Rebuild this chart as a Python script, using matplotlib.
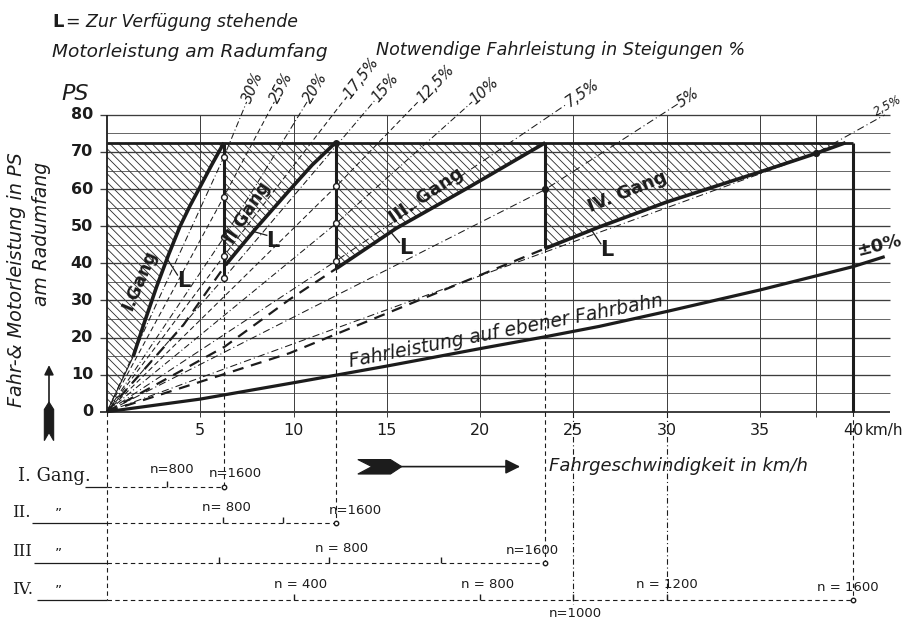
"""Fahr- und Motorleistung am Radumfang mit Steigungslinien (Nachzeichnung)."""

import math

import matplotlib

matplotlib.use("Agg")
import matplotlib.pyplot as plt
from matplotlib.patches import Polygon

plt.rcParams["font.family"] = ["DejaVu Sans"]
plt.rcParams["hatch.linewidth"] = 0.6
plt.rcParams["hatch.color"] = "#2a2a2a"

INK = "#1c1c1c"
GRID = "#3c3c3c"

# Fahrleistung auf ebener Fahrbahn (+-0 %)
FLAT_V = [0, 5, 10, 15, 20, 23.5, 26.4, 30, 35, 40, 41.7]
FLAT_P = [0, 3.4, 7.8, 12.3, 17.0, 20.2, 23.0, 27.0, 32.8, 39.1, 41.8]

# Steigungslinien: Schnitt mit der Schaltlinie und Schnitt mit 80 PS
GRADE_LABELS = ["30%", "25%", "20%", "-17,5%", "15%", "12,5%", "10%", "7,5%", "5%", "2,5%"]
GRADE_MID_V = [6.27, 6.27, 6.27, 6.27, 6.27, 12.3, 12.3, 12.3, 23.5, 38.0]
GRADE_MID_P = [68.7, 58.0, 47.0, 42.0, 36.0, 60.8, 50.8, 40.7, 59.9, 69.6]
GRADE_V80 = [7.2, 8.6, 10.3, 12.1, 13.7, 16.0, 18.8, 23.8, 29.7, 41.7]
GRADE_TOP_P = [83.5, 83.5, 83.5, 84.0, 84.0, 84.0, 83.5, 83.0, 83.0, 79.0]

# Motorleistung am Radumfang je Gang
GEAR_I_V = [1.4, 2.0, 2.66, 3.3, 3.91, 4.45, 4.99, 5.6, 6.27]
GEAR_I_P = [14.8, 24.0, 33.7, 42.3, 49.9, 55.5, 60.6, 66.4, 72.5]
GEAR_II_V = [6.35, 8.0, 9.8, 11.0, 12.25]
GEAR_II_P = [39.5, 49.5, 59.8, 66.5, 72.5]
GEAR_III_V = [12.3, 15.5, 19.3, 23.5]
GEAR_III_P = [38.6, 49.4, 60.2, 72.5]
GEAR_IV_V = [23.5, 26.4, 30.0, 35.0, 38.0, 39.6]
GEAR_IV_P = [44.0, 49.8, 56.5, 64.6, 69.6, 72.5]
P_MAX = 72.5
GEAR_END_V = [6.27, 12.3, 23.5, 40.0]

# Grenzlinien (stark gestrichelt) bis zum Anfang des naechsten Ganges
LIMIT_II_V = [0, 4.1, 6.35]
LIMIT_II_P = [0, 23.4, 39.5]
LIMIT_III_V = [0, 6.3, 9.8, 12.3]
LIMIT_III_P = [0, 17.5, 30.3, 38.6]
LIMIT_IV_V = [0, 9.8, 23.5]
LIMIT_IV_P = [0, 15.8, 44.0]

# Drehzahlleisten unter der Abszisse
ROW_TICKS = [[3.2], [6.2, 9.45], [6.0, 11.9, 17.9], [10.0, 20.0, 25.0, 30.0]]
ROW_LABELS = [
    [("n=800", 3.5, -15.6), ("n=1600", 6.9, -16.6)],
    [("n= 800", 6.4, -25.7), ("n=1600", 13.3, -26.5)],
    [("n = 800", 12.6, -36.8), ("n=1600", 22.8, -37.3)],
    [("n = 400", 10.4, -46.6), ("n = 800", 20.4, -46.6), ("n=1000", 25.1, -54.4),
     ("n = 1200", 30.0, -46.6), ("n = 1600", 39.7, -47.3)],
]
ROW_NAMES = ["I. Gang.", "II.", "III", "IV."]
ROW_P = [-20.3, -30.0, -40.7, -50.75]

X_TICKS = [5, 10, 15, 20, 25, 30, 35, 40]
Y_TICKS = [0, 10, 20, 30, 40, 50, 60, 70, 80]

fig = plt.figure(figsize=(9.1, 6.2), dpi=100)
ax = fig.add_axes([0, 0, 1, 1])
ax.set_xlim(-107 / 18.65, 803 / 18.65)
ax.set_ylim(-208.3 / 3.71, 411.7 / 3.71)
ax.axis("off")


def line(xs, ys, lw=0.7, color=GRID, ls="-", z=2, **kw):
    ax.plot(xs, ys, color=color, lw=lw, ls=ls, zorder=z, solid_capstyle="butt", **kw)


def angle(v0, p0, v1, p1):
    a = ax.transData.transform((v0, p0))
    b = ax.transData.transform((v1, p1))
    return math.degrees(math.atan2(b[1] - a[1], b[0] - a[0]))


# grid
for p in range(5, 81, 5):
    major = p % 10 == 0
    line([-0.4 if major else 0, 42.0], [p, p], lw=0.95 if major else 0.55)
line([-0.4, 42.0], [0, 0], lw=1.2, color=INK)
for v in [5, 10, 15, 20, 25, 30, 35, 38]:
    line([v, v], [-1.4, 80], lw=0.7)
line([0, 0], [0, 80], lw=1.3, color=INK)
line([0, 40], [P_MAX, P_MAX], lw=2.0, color=INK, z=5)
line([40, 40], [0, P_MAX], lw=2.2, color=INK, z=5)

# hatched areas of available power
regions = [
    [(0, 0), (0, P_MAX)] + list(zip(GEAR_I_V, GEAR_I_P))[::-1],
    [(GEAR_END_V[0], P_MAX)] + list(zip(GEAR_II_V, GEAR_II_P))[::-1] + [(GEAR_END_V[0], GEAR_II_P[0])],
    [(GEAR_END_V[1], P_MAX)] + list(zip(GEAR_III_V, GEAR_III_P))[::-1],
    [(GEAR_END_V[2], P_MAX), (GEAR_IV_V[-1], P_MAX)] + list(zip(GEAR_IV_V, GEAR_IV_P))[::-1],
]
for pts in regions:
    ax.add_patch(Polygon(pts, closed=True, facecolor="none", edgecolor="#2a2a2a",
                         lw=0, hatch="\\" * 4, zorder=1.5))

# grade lines
styles = [(0, (6, 2.5, 1, 2.5)), (0, (5, 3)), (0, (6, 2.5, 1, 2.5)), (0, (5, 3)),
          (0, (6, 2.5, 1, 2.5)), (0, (5, 3)), (0, (6, 2.5, 1, 2.5)), (0, (7, 3, 1, 3)),
          (0, (7, 3, 1, 3)), (0, (7, 3, 1, 3))]
for lab, vm, pm, v80, ptop, st in zip(GRADE_LABELS, GRADE_MID_V, GRADE_MID_P,
                                        GRADE_V80, GRADE_TOP_P, styles):
    vtop = v80 + (ptop - 80) * (v80 - vm) / (80 - pm)
    pts_v = [0, vm, v80, vtop] if ptop > 80 else [0, vm, vtop, v80]
    pts_p = [0, pm, 80, ptop] if ptop > 80 else [0, pm, ptop, 80]
    line(pts_v, pts_p, lw=0.75, color=INK, ls=st, z=3)
    rot = angle(vm, pm, v80, 80)
    ax.text(vtop, ptop, lab, rotation=rot, rotation_mode="anchor", ha="left",
            va="bottom" if ptop < 80 else "center",
            fontsize=8.5 if lab == "2,5%" else 10.5, style="italic", color=INK)
for vm, pm, lab in zip(GRADE_MID_V, GRADE_MID_P, GRADE_LABELS):
    filled = lab in ("5%", "2,5%")
    ax.plot(vm, pm, "o", ms=4.2, mfc=INK if filled else "white", mec=INK, mew=1.0, zorder=7)

# heavy dashed limit lines
for vs, ps in [(LIMIT_II_V, LIMIT_II_P), (LIMIT_III_V, LIMIT_III_P), (LIMIT_IV_V, LIMIT_IV_P)]:
    line(vs, ps, lw=1.6, color=INK, ls=(0, (5, 3.5)), z=3)

# flat road line
line(FLAT_V, FLAT_P, lw=2.3, color=INK, z=6)

# gear curves and shift verticals
for vs, ps in [(GEAR_I_V, GEAR_I_P), (GEAR_II_V, GEAR_II_P),
               (GEAR_III_V, GEAR_III_P), (GEAR_IV_V, GEAR_IV_P)]:
    line(vs, ps, lw=2.6, color=INK, z=6)
line([0, GEAR_I_V[0]], [0, GEAR_I_P[0]], lw=0.8, color=INK, z=4)
shift_low = [GRADE_MID_P[4], GEAR_III_P[0], GEAR_IV_P[0]]
for v, plow in zip(GEAR_END_V[:3], shift_low):
    line([v, v], [plow, P_MAX], lw=2.2, color=INK, z=6)
    line([v, v], [plow, 0], lw=0.8, color=INK, ls=(0, (4, 3)), z=3)
ax.plot(GEAR_END_V[1], P_MAX, "o", ms=4, color=INK, zorder=7)

# gear labels
ax.text(1.75, 35.5, "I.Gang", rotation=67, fontsize=12.5, fontweight="bold",
        ha="center", va="center", color=INK, zorder=8)
ax.text(7.55, 53.5, "II Gang", rotation=57, fontsize=12.5, fontweight="bold",
        ha="center", va="center", color=INK, zorder=8)
ax.text(17.1, 58.3, "III. Gang", rotation=34, fontsize=13, fontweight="bold",
        ha="center", va="center", color=INK, zorder=8)
ax.text(27.9, 59.2, "IV. Gang", rotation=22, fontsize=13, fontweight="bold",
        ha="center", va="center", color=INK, zorder=8)

# "L" markers
for (vc, pc), (vl, pl) in [((3.25, 41.0), (4.1, 35.2)), ((7.9, 48.5), (8.9, 46.0)),
                           ((15.2, 48.5), (16.0, 44.0)), ((26.0, 48.8), (26.8, 43.6))]:
    line([vc, vl - 0.3], [pc, pl + 1.5], lw=0.9, color=INK, z=8)
    ax.text(vl, pl, "L", fontsize=15, fontweight="bold", ha="center", va="center",
            color=INK, zorder=8)

ax.text(21.4, 21.6, "Fahrleistung auf ebener Fahrbahn", rotation=angle(15, 12.3, 30, 27.0),
        fontsize=13.5, style="italic", ha="center", va="center", color=INK, zorder=8)
ax.text(41.4, 44.8, "±0%", rotation=14, fontsize=13, fontweight="bold",
        ha="center", va="center", color=INK)

# axis ticks
for p in Y_TICKS:
    ax.text(-0.75, p, str(p), ha="right", va="center", fontsize=11.5,
            fontweight="bold", color=INK)
for v in X_TICKS:
    ax.text(v, -5.0, str(v), ha="center", va="center", fontsize=11.5, color=INK)
ax.text(40.65, -5.0, "km/h", ha="left", va="center", fontsize=11, color=INK)

# titles
ax.text(-2.95, 105.0, "L", fontsize=13, fontweight="bold", ha="left", va="center", color=INK)
ax.text(-2.2, 105.0, "= Zur Verfügung stehende", fontsize=12.5, style="italic",
        ha="left", va="center", color=INK)
ax.text(-2.95, 97.0, "Motorleistung am Radumfang", fontsize=13.3, style="italic",
        ha="left", va="center", color=INK)
ax.text(14.4, 97.6, "Notwendige Fahrleistung in Steigungen %", fontsize=12.6,
        style="italic", ha="left", va="center", color=INK)
ax.text(-2.45, 85.6, "PS", fontsize=16, style="italic", ha="left", va="center", color=INK)

# y axis label and arrow
ax.text(-4.85, 35.5, "Fahr-& Motorleistung in PS", rotation=90, fontsize=13.8,
        style="italic", ha="center", va="center", color=INK)
ax.text(-3.5, 48.0, "am Radumfang", rotation=90, fontsize=13.5, style="italic",
        ha="center", va="center", color=INK)
ax.annotate("", xy=(-3.11, 13.3), xytext=(-3.11, -6.5),
            arrowprops=dict(arrowstyle="-|>", lw=1.2, color=INK, mutation_scale=14))
ax.add_patch(Polygon([(-3.36, -7.8), (-3.11, -5.6), (-2.86, -7.8), (-2.86, 0.6),
                      (-3.11, 2.6), (-3.36, 0.6)], closed=True, facecolor=INK,
                     edgecolor=INK, lw=0.8))

# x axis arrow and label
ax.annotate("", xy=(22.3, -14.8), xytext=(15.5, -14.8),
            arrowprops=dict(arrowstyle="-|>", lw=1.2, color=INK, mutation_scale=22))
ax.add_patch(Polygon([(13.45, -12.9), (14.2, -14.8), (13.45, -16.8), (15.2, -16.8),
                      (15.8, -14.8), (15.2, -12.9)], closed=True, facecolor=INK,
                     edgecolor=INK, lw=0.8))
ax.text(23.7, -14.6, "Fahrgeschwindigkeit in km/h", fontsize=13, style="italic",
        ha="left", va="center", color=INK)

# dashed drop lines below the axis
line([0, 0], [0, ROW_P[3]], lw=0.8, color=INK, ls=(0, (4, 3)))
for v, pend in zip(GEAR_END_V, ROW_P):
    line([v, v], [0, pend], lw=0.8, color=INK, ls=(0, (4, 3)))
line([25, 25], [0, ROW_P[3] - 1], lw=0.8, color=INK, ls=(0, (5, 2.5, 1, 2.5)))
line([30, 30], [0, ROW_P[3]], lw=0.8, color=INK, ls=(0, (5, 2.5, 1, 2.5)))

# rpm rows
row_text_x = [-4.77, -5.1, -5.1, -5.1]
row_line_start = [-1.2, -4.0, -3.9, -3.75]
for name, tx, lx, py, vend, ticks, labs in zip(ROW_NAMES, row_text_x, row_line_start,
                                               ROW_P, GEAR_END_V, ROW_TICKS, ROW_LABELS):
    ax.text(tx, py + 0.6, name, fontsize=13 if name.startswith("I.") else 12,
            family="DejaVu Serif", ha="left", va="bottom", color=INK)
    if not name.startswith("I."):
        ax.text(-2.6, py + 0.5, "\u201d", fontsize=10, ha="center", va="bottom", color=INK)
    line([lx, 0], [py, py], lw=0.9, color=INK)
    line([0, vend], [py, py], lw=0.8, color=INK, ls=(0, (4, 3)))
    for t in ticks:
        line([t, t], [py, py + 1.5], lw=1.0, color=INK)
    ax.plot(vend, py, "o", ms=3.2, mfc="white", mec=INK, mew=1.0, zorder=7)
    for text, vx, py_lab in labs:
        ax.text(vx, py_lab, text, fontsize=9.5, ha="center", va="center", color=INK)

fig.savefig("out.png", dpi=100)
plt.close(fig)
